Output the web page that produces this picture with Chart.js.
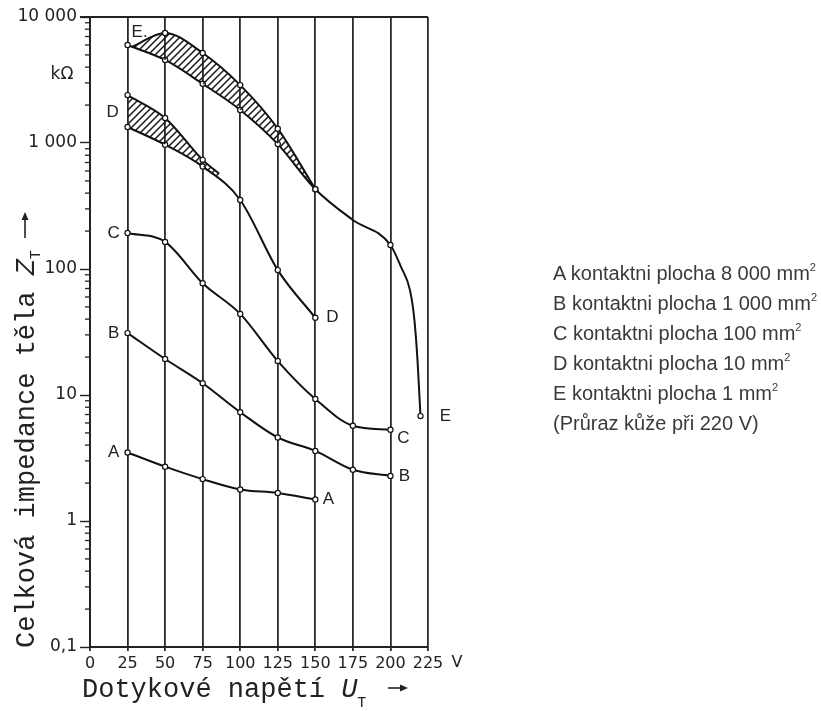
<!DOCTYPE html>
<html>
<head>
<meta charset="utf-8">
<script src="https://cdn.jsdelivr.net/npm/chart.js@4"></script>
<style>
  body { margin: 0; background: #fff; }
  #wrap { position: relative; width: 821px; height: 711px; }
  #legend { position: absolute; left: 553px; top: 258px; font: 20px "Liberation Sans", Arial, sans-serif; color: #3a3a3a; line-height: 30px; white-space: nowrap; }
  #legend sup { font-size: 11px; vertical-align: 9px; line-height: 0; }
</style>
</head>
<body>
<div id="wrap">
  <canvas id="myChart" width="821" height="711"></canvas>
  <div id="legend">
    <div>A kontaktni plocha 8 000 mm<sup>2</sup></div>
    <div>B kontaktni plocha 1 000 mm<sup>2</sup></div>
    <div>C kontaktni plocha 100 mm<sup>2</sup></div>
    <div>D kontaktni plocha 10 mm<sup>2</sup></div>
    <div>E kontaktni plocha 1 mm<sup>2</sup></div>
    <div>(Průraz kůže při 220 V)</div>
  </div>
</div>
<script>
// hodnoty (U v V, Z v kΩ)
var aX = [25, 50, 75, 100, 125, 150];
var aY = [3.5, 2.7, 2.15, 1.78, 1.67, 1.48];
var bX = [25, 50, 75, 100, 125, 150, 175, 200];
var bY = [31, 19.3, 12.4, 7.3, 4.6, 3.6, 2.55, 2.28];
var cX = [25, 50, 75, 100, 125, 150, 175, 200];
var cY = [193, 164, 77, 44, 18.6, 9.3, 5.7, 5.3];
var dTopX = [25, 50, 75, 86];
var dTopY = [2400, 1580, 735, 570];
var dX = [25, 50, 75, 100, 125, 150];
var dY = [1340, 970, 650, 353, 98, 41];
var eTopX = [28, 50, 75, 100, 125, 150];
var eTopY = [5800, 7470, 5180, 2880, 1300, 430];
var eX = [25, 50, 75, 100, 125, 150, 175, 200, 207, 213, 216, 218, 220];
var eY = [5990, 4560, 2950, 1830, 980, 430, 245, 155, 104, 68, 39, 19, 6.8];

// ktere body maji krouzek
var dTopMark = [1, 1, 1, 0];
var eTopMark = [0, 1, 1, 1, 1, 1];
var eMark = [1, 1, 1, 1, 1, 1, 0, 1, 0, 0, 0, 0, 1];

var xTicks = [0, 25, 50, 75, 100, 125, 150, 175, 200, 225];
var yTickValues = [0.1, 1, 10, 100, 1000, 10000];
var yTickLabels = ['0,1', '1', '10', '100', '1 000', '10 000'];

function pts(xs, ys) {
  return xs.map(function(x, i) { return { x: x, y: ys[i] }; });
}

function radii(marks) {
  return marks.map(function(m) { return m ? 2.6 : 0; });
}

function makeHatch(ctx) {
  var c = document.createElement('canvas');
  c.width = 7; c.height = 7;
  var g = c.getContext('2d');
  g.strokeStyle = '#1a1a1a';
  g.lineWidth = 1.5;
  g.beginPath();
  g.moveTo(0, 7); g.lineTo(7, 0);
  g.moveTo(-1, 1); g.lineTo(1, -1);
  g.moveTo(6, 8); g.lineTo(8, 6);
  g.stroke();
  return ctx.createPattern(c, 'repeat');
}

function line(data, r, extra) {
  var ds = {
    data: data,
    borderColor: '#111',
    borderWidth: 2,
    pointRadius: r,
    pointBackgroundColor: '#fff',
    pointBorderColor: '#111',
    pointBorderWidth: 1.2,
    cubicInterpolationMode: 'monotone',
    fill: false
  };
  for (var k in extra) ds[k] = extra[k];
  return ds;
}

var textPlugin = {
  id: 'texts',
  afterDraw: function(chart) {
    var ctx = chart.ctx;
    var xs = chart.scales.x;
    var ys = chart.scales.y;
    var area = chart.chartArea;
    ctx.save();

    // horni okraj
    ctx.strokeStyle = '#222';
    ctx.lineWidth = 2;
    ctx.beginPath();
    ctx.moveTo(area.left - 10, area.top);
    ctx.lineTo(area.right, area.top);
    ctx.stroke();

    // vedlejsi znacky na ose y
    ctx.lineWidth = 1.3;
    ys.ticks.forEach(function(t) {
      if (yTickValues.indexOf(t.value) >= 0) return;
      var py = ys.getPixelForValue(t.value);
      ctx.beginPath();
      ctx.moveTo(area.left - 5, py);
      ctx.lineTo(area.left, py);
      ctx.stroke();
    });

    ctx.fillStyle = '#222';
    ctx.font = '16px "DejaVu Sans"';
    ctx.textAlign = 'center';
    ctx.textBaseline = 'middle';
    ctx.fillText('V', xs.getPixelForValue(225) + 29, 663);
    ctx.font = '17px "DejaVu Sans"';
    ctx.fillText('kΩ', 62, 75);

    // popisky krivek
    ctx.font = '17px "Liberation Sans"';
    var tags = [
      ['A', 25, 3.5, -14], ['B', 25, 31, -14], ['C', 25, 193, -14], ['D', 25, 1760, -15],
      ['E.', 33, 7600, 0],
      ['A', 150, 1.48, 13], ['B', 200, 2.28, 14], ['C', 200, 4.5, 13], ['D', 150, 41, 17],
      ['E', 220, 6.8, 25]
    ];
    tags.forEach(function(t) {
      ctx.fillText(t[0], xs.getPixelForValue(t[1]) + t[3], ys.getPixelForValue(t[2]));
    });

    // nazev osy y
    ctx.save();
    ctx.translate(34, 648);
    ctx.rotate(-Math.PI / 2);
    ctx.textAlign = 'left';
    ctx.textBaseline = 'alphabetic';
    ctx.font = '27px "Liberation Mono"';
    var s = 'Celková impedance těla ';
    ctx.fillText(s, 0, 0);
    var w = ctx.measureText(s).width;
    ctx.font = 'italic 27px "Liberation Mono"';
    ctx.fillText('Z', w, 0);
    ctx.font = '15px "Liberation Mono"';
    ctx.fillText('T', w + 16, 6);
    ctx.lineWidth = 1.6;
    ctx.beginPath();
    ctx.moveTo(410, -9); ctx.lineTo(434, -9);
    ctx.stroke();
    ctx.beginPath();
    ctx.moveTo(436, -9); ctx.lineTo(428, -12.5); ctx.lineTo(428, -5.5); ctx.closePath();
    ctx.fill();
    ctx.restore();

    // nazev osy x
    ctx.textAlign = 'left';
    ctx.textBaseline = 'alphabetic';
    ctx.font = '27px "Liberation Mono"';
    var sx = 'Dotykové napětí ';
    ctx.fillText(sx, 82, 697);
    var wx = ctx.measureText(sx).width;
    ctx.font = 'italic 27px "Liberation Mono"';
    ctx.fillText('U', 82 + wx, 697);
    ctx.font = '15px "Liberation Mono"';
    ctx.fillText('T', 82 + wx + 16, 707);
    ctx.lineWidth = 1.6;
    ctx.beginPath();
    ctx.moveTo(388, 688); ctx.lineTo(406, 688);
    ctx.stroke();
    ctx.beginPath();
    ctx.moveTo(408, 688); ctx.lineTo(400, 684.5); ctx.lineTo(400, 691.5); ctx.closePath();
    ctx.fill();

    ctx.restore();
  }
};

var ctx = document.getElementById('myChart').getContext('2d');
var hatch = makeHatch(ctx);

var chart = new Chart(ctx, {
  type: 'line',
  data: {
    datasets: [
      line(pts(aX, aY), 2.6),
      line(pts(bX, bY), 2.6),
      line(pts(cX, cY), 2.6),
      line(pts(dTopX, dTopY), radii(dTopMark), { fill: '+1', backgroundColor: hatch }),
      line(pts(dX, dY), 2.6),
      line(pts(eTopX, eTopY), radii(eTopMark), { fill: '+1', backgroundColor: hatch }),
      line(pts(eX, eY), radii(eMark))
    ]
  },
  options: {
    responsive: false,
    animation: false,
    devicePixelRatio: 1,
    layout: { padding: { left: 0, top: 17, right: 393, bottom: 0 } },
    plugins: { legend: { display: false }, tooltip: { enabled: false } },
    scales: {
      x: {
        type: 'linear',
        min: 0,
        max: 225,
        afterFit: function(scale) { scale.height = 64; },
        afterBuildTicks: function(scale) {
          scale.ticks = xTicks.map(function(v) { return { value: v }; });
        },
        ticks: {
          autoSkip: false,
          maxRotation: 0,
          padding: 3,
          color: '#222',
          font: { family: 'DejaVu Sans', size: 16 }
        },
        grid: {
          color: '#2a2a2a',
          lineWidth: 1.8,
          tickLength: 4,
          tickColor: '#2a2a2a'
        },
        border: { display: true, color: '#222', width: 2 }
      },
      y: {
        type: 'logarithmic',
        min: 0.1,
        max: 10000,
        afterFit: function(scale) { scale.width = 90; },
        afterBuildTicks: function(scale) {
          var t = [];
          for (var e = -1; e <= 4; e++) {
            for (var k = 1; k <= 9; k++) {
              var v = Number((k * Math.pow(10, e)).toPrecision(3));
              if (v <= 10000) t.push({ value: v });
            }
          }
          scale.ticks = t;
        },
        ticks: {
          autoSkip: false,
          padding: 3,
          color: '#222',
          font: { family: 'DejaVu Sans', size: 17 },
          callback: function(value) {
            var i = yTickValues.indexOf(value);
            return i >= 0 ? yTickLabels[i] : '';
          }
        },
        grid: {
          drawOnChartArea: false,
          tickLength: 10,
          tickWidth: 1.4,
          tickColor: function(c) {
            return c.tick && yTickValues.indexOf(c.tick.value) >= 0 ? '#222' : 'rgba(0,0,0,0)';
          }
        },
        border: { display: true, color: '#222', width: 2 }
      }
    }
  },
  plugins: [textPlugin]
});
</script>
</body>
</html>
